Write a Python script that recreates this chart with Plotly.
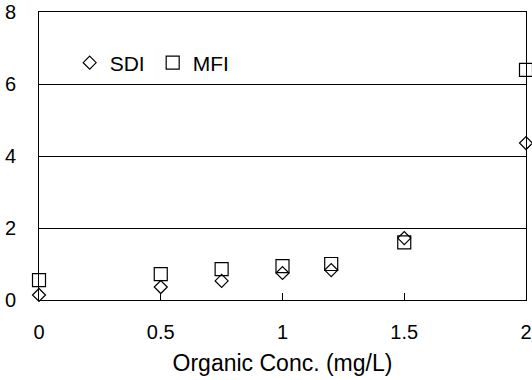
import plotly.graph_objects as go

conc = [0, 0.5, 0.75, 1.0, 1.2, 1.5, 2.0]
sdi = [0.14, 0.36, 0.53, 0.75, 0.83, 1.72, 4.36]
mfi = [0.55, 0.72, 0.86, 0.94, 1.0, 1.6, 6.39]

FONT = "Liberation Sans, Arial, sans-serif"

fig = go.Figure()
fig.add_trace(go.Scatter(x=conc, y=sdi, mode="markers", name="SDI",
                         marker=dict(symbol="diamond-open", size=10, color="black", line=dict(width=1.2)),
                         cliponaxis=False))
fig.add_trace(go.Scatter(x=conc, y=mfi, mode="markers", name="MFI",
                         marker=dict(symbol="square-open", size=13, color="black", line=dict(width=1.2)),
                         cliponaxis=False))

fig.update_layout(
    width=532, height=380,
    margin=dict(l=39, r=6, t=12, b=80, autoexpand=False),
    paper_bgcolor="white", plot_bgcolor="white",
    font=dict(family=FONT, size=20, color="black"),
    showlegend=True,
    legend=dict(orientation="h", x=0.063, y=0.823, xanchor="left", yanchor="middle",
                font=dict(size=21), bgcolor="rgba(0,0,0,0)", itemwidth=30, tracegroupgap=0,
                entrywidth=38),
    xaxis=dict(range=[0, 2], tickvals=[0, 0.5, 1, 1.5, 2], ticktext=["0", "0.5", "1", "1.5", "2"],
               showgrid=False, zeroline=False, showline=True, linecolor="black", linewidth=1,
               mirror=True, ticks="inside", ticklen=7, tickcolor="black", automargin=False,
               ticklabelstandoff=14, ticklabeloverflow="allow",
               title=dict(text="Organic Conc. (mg/L)", font=dict(size=23), standoff=12),
               tickfont=dict(size=20)),
    yaxis=dict(range=[0, 8], tickvals=[0, 2, 4, 6, 8], showgrid=True, gridcolor="black", gridwidth=1,
               zeroline=False, showline=True, linecolor="black", linewidth=1, mirror=True,
               automargin=False, ticks="", ticklabelstandoff=18, tickfont=dict(size=20)),
)

fig.write_html("out.html")
